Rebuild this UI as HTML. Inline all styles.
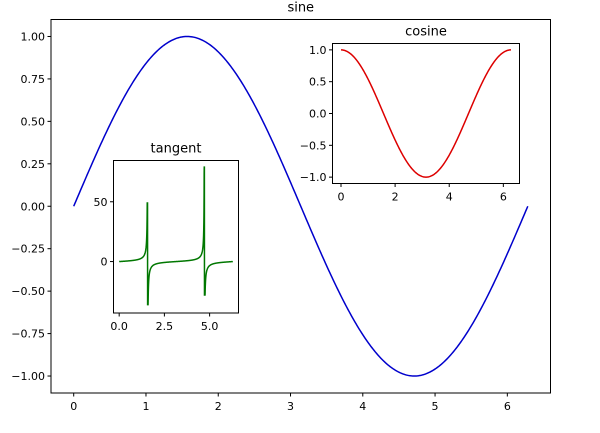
<!DOCTYPE html>
<html><head><meta charset="utf-8"><style>
body{margin:0;background:#fff}
svg text{font-family:"DejaVu Sans","Liberation Sans",sans-serif;fill:#000}
</style></head><body>
<svg id="s" width="600" height="428" xmlns="http://www.w3.org/2000/svg">
<rect width="600" height="428" fill="#fff"/>
<g id="g"></g>
</svg>
<script>
const g=document.getElementById('g');let h='';
function ax(L,T,R,B,x0,x1,y0,y1,xt,yt,title,fs,fn,col,N,clampF){
 const sx=v=>L+(v-x0)/(x1-x0)*(R-L), sy=v=>B-(v-y0)/(y1-y0)*(B-T);
 h+=`<rect x="${L}" y="${T}" width="${R-L}" height="${B-T}" fill="#fff" stroke="#000" stroke-width="1"/>`;
 let d='';
 for(let i=0;i<N;i++){const x=i/(N-1)*2*Math.PI;let y=fn(x);if(clampF)y=clampF(x,y);d+=(i?'L':'M')+sx(x).toFixed(2)+' '+sy(y).toFixed(2);}
 h+=`<path d="${d}" fill="none" stroke="${col}" stroke-width="1.5"/>`;
 xt.forEach(([v,l])=>{const x=sx(v);h+=`<line x1="${x}" y1="${B}" x2="${x}" y2="${B+3.5}" stroke="#000"/><text x="${x}" y="${B+17}" font-size="${fs}" text-anchor="middle">${l}</text>`});
 yt.forEach(([v,l])=>{const y=sy(v);h+=`<line x1="${L-3.5}" y1="${y}" x2="${L}" y2="${y}" stroke="#000"/><text x="${L-6}" y="${y+4}" font-size="${fs}" text-anchor="end">${l}</text>`});
 h+=`<text x="${(L+R)/2}" y="${T-8}" font-size="${fs+2}" text-anchor="middle">${title}</text>`;
}
const P=2*Math.PI,m=0.05*P;
ax(51,19.5,550.5,393,-m,P+m,-1.1,1.1,[0,1,2,3,4,5,6].map(v=>[v,''+v]),
 [[1,'1.00'],[0.75,'0.75'],[0.5,'0.50'],[0.25,'0.25'],[0,'0.00'],[-0.25,'−0.25'],[-0.5,'−0.50'],[-0.75,'−0.75'],[-1,'−1.00']],
 'sine',11,Math.sin,'#0000cc',400);
ax(332.5,43.5,519.5,183.5,-m,P+m,-1.1,1.1,[0,2,4,6].map(v=>[v,''+v]),
 [[1,'1.0'],[0.5,'0.5'],[0,'0.0'],[-0.5,'−0.5'],[-1,'−1.0']],'cosine',11,Math.cos,'#dd0000',300);
ax(113.5,160.5,238.5,313,-m,P+m,-43,84.5,[[0,'0.0'],[2.5,'2.5'],[5,'5.0']],[[50,'50'],[0,'0']],'tangent',11,Math.tan,'#007700',1500,
 (x,y)=>{if(x<3.14){return Math.max(-36,Math.min(49,y));}return Math.max(-28,Math.min(79,y));});
g.innerHTML=h;
</script>
</body></html>
